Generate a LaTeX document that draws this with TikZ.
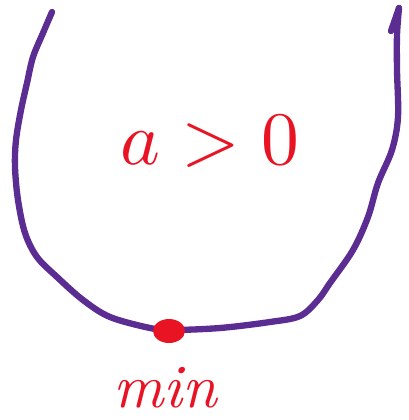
\documentclass[tikz,border=0pt]{standalone}
\definecolor{parabola}{RGB}{91,44,145}
\definecolor{marker}{RGB}{232,20,36}
\begin{document}
\begin{tikzpicture}[x=0.02cm, y=-0.02cm, every node/.style={text=marker}]
    % --- РАМКА ---
    \useasboundingbox (0,0) rectangle (409,420);

    % --- ПАРАБОЛА ---
    \draw[parabola, line width=3.6pt, line cap=round, line join=round]
        plot[smooth, tension=0.55] coordinates {
            (52,12) (43,33) (33,57) (27,83) (21,110) (16,140) (15,167)
            (18,200) (25,233) (37,257) (57,277) (83,300) (110,317)
            (150,328) (172,330) (220,328) (270,322) (300,316) (318,300)
            (330,283) (353,250) (368,217) (378,183) (392,150) (398,117)
            (397,70) (397,35) (399,8)};
    % Штрих у верхнего конца
    \draw[parabola, line width=3.6pt, line cap=round] (399,8) -- (391,31);

    % --- ТОЧКА МИНИМУМА ---
    \coordinate (M) at (169,331);
    \fill[marker] (M) ellipse (16 and 12);

    % --- ПОДПИСИ ---
    \node[scale=4.3] (cond) at (210,142) {$a>0$};
    \node[scale=3.5] (min) at (165,388) {\itshape min};
\end{tikzpicture}
\end{document}
